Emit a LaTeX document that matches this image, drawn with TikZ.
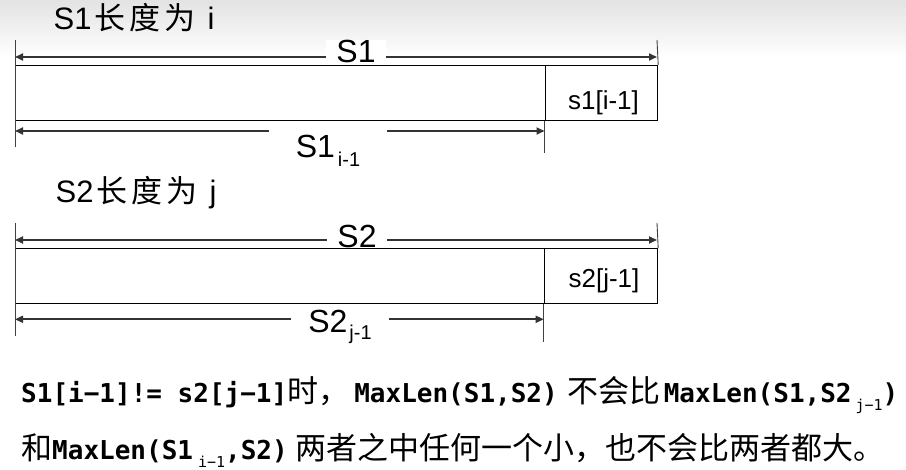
\documentclass[tikz,border=0pt]{standalone}
\usepackage{fontspec}
\setmainfont{Liberation Sans}
\newfontfamily\cjk{Noto Sans CJK SC}
\newfontfamily\monof{DejaVu Sans Mono}
\usetikzlibrary{arrows.meta}
\newcommand{\monotxt}[1]{{\monof\bfseries\fontsize{26}{30}\selectfont #1}}
\newcommand{\cjktxt}[1]{{\cjk\fontsize{31}{36}\selectfont #1}}
\newcommand{\monosub}[1]{\raisebox{-8pt}{\monof\fontsize{15}{15}\selectfont #1}}
\newcommand{\labsub}[2]{\raisebox{#1}{\fontsize{20}{20}\selectfont #2}}
\begin{document}
\begin{tikzpicture}[x=1pt,y=1pt,
 dimarrow/.style={draw=black!80, line width=1.7pt, {Triangle[length=8pt,width=7pt]}-{Triangle[length=8pt,width=7pt]}},
 tick/.style={draw=black!75, line width=0.9pt},
 cell/.style={draw=black, line width=1.2pt, inner sep=0pt, anchor=south west},
 dimlab/.style={fill=white, inner ysep=1pt, inner xsep=10pt, anchor=base, font=\fontsize{32}{36}\selectfont},
 celllab/.style={inner sep=0pt, anchor=base, font=\fontsize{26}{30}\selectfont},
 titlelab/.style={inner sep=0pt, anchor=base west, font=\fontsize{31}{36}\selectfont},
 notelab/.style={inner sep=0pt, anchor=base west}
]
\useasboundingbox (0,0) rectangle (906,470);
\shade[top color=black!11, bottom color=white] (0,412) rectangle (906,470);

% ---------- S1 ----------
\node[titlelab] (t1) at (53.5,440) {S1\hspace{3pt}{\cjk 长}\hspace{4pt}{\cjk 度}\hspace{4pt}{\cjk 为}\hspace{12pt}i};

\coordinate (a1L) at (15,413);
\coordinate (a1R) at (657,413);
\coordinate (b1L) at (15,339);
\coordinate (b1R) at (544.5,339);
\draw[dimarrow] (a1L) -- (a1R);
\draw[dimarrow] (b1L) -- (b1R);
\node[dimlab] (l1a) at (356,407) {S1};
\node[dimlab, inner xsep=27pt, inner ysep=6pt] (l1b) at (328,312) {S1\hspace{3pt}\labsub{-9pt}{i-1}};

\node[cell, minimum width=529.5pt, minimum height=55pt] (s1main) at (15,349) {};
\node[cell, minimum width=112.5pt, minimum height=55pt] (s1last) at (544.5,349) {};
\node[celllab] (s1txt) at (603.5,360) {s1[i-1]};

\coordinate (k1Lt) at (15,430);
\coordinate (k1Lb) at (15,323);
\coordinate (k1Rt) at (657,430);
\coordinate (k1Mb) at (544.5,317);
\draw[tick] (k1Lt) -- (k1Lb);
\draw[tick] (k1Rt) -- (s1last.north east);
\draw[tick] (s1last.south west) -- (k1Mb);

% ---------- S2 ----------
\node[titlelab] (t2) at (55.5,267) {S2\hspace{3pt}{\cjk 长}\hspace{4pt}{\cjk 度}\hspace{4pt}{\cjk 为}\hspace{12pt}j};

\coordinate (a2L) at (15,230);
\coordinate (a2R) at (657,230);
\coordinate (b2L) at (15,150.7);
\coordinate (b2R) at (543.7,150.7);
\draw[dimarrow] (a2L) -- (a2R);
\draw[dimarrow] (b2L) -- (b2R);
\node[dimlab] (l2a) at (357,222) {S2};
\node[dimlab, inner xsep=17pt, inner ysep=2pt] (l2b) at (340,137) {S2\hspace{2pt}\labsub{-7pt}{j-1}};

\node[cell, minimum width=528.7pt, minimum height=55pt] (s2main) at (15,165.7) {};
\node[cell, minimum width=113.3pt, minimum height=55pt] (s2last) at (543.7,165.7) {};
\node[celllab] (s2txt) at (604,182) {s2[j-1]};

\coordinate (k2Lt) at (15,247);
\coordinate (k2Lb) at (15,134);
\coordinate (k2Rt) at (657,247);
\coordinate (k2Mb) at (543.7,128);
\draw[tick] (k2Lt) -- (k2Lb);
\draw[tick] (k2Rt) -- (s2last.north east);
\draw[tick] (s2last.south west) -- (k2Mb);

% ---------- note ----------
\node[notelab] (n1) at (21,67) {\monotxt{S1[i−1]!= s2[j−1]}\cjktxt{时，}\hspace{5pt}\monotxt{MaxLen(S1,S2)}\hspace{10pt}\cjktxt{不会比}\hspace{3pt}\monotxt{MaxLen(S1,S2}\hspace{4pt}\monosub{j−1}\monotxt{)}};
\node[notelab] (n2) at (21,10) {\cjktxt{和}\monotxt{MaxLen(S1}\hspace{5pt}\monosub{i−1}\monotxt{,S2)}\hspace{8pt}\cjktxt{两者之中任何一个小，也不会比两者都大。}};
\end{tikzpicture}
\end{document}
